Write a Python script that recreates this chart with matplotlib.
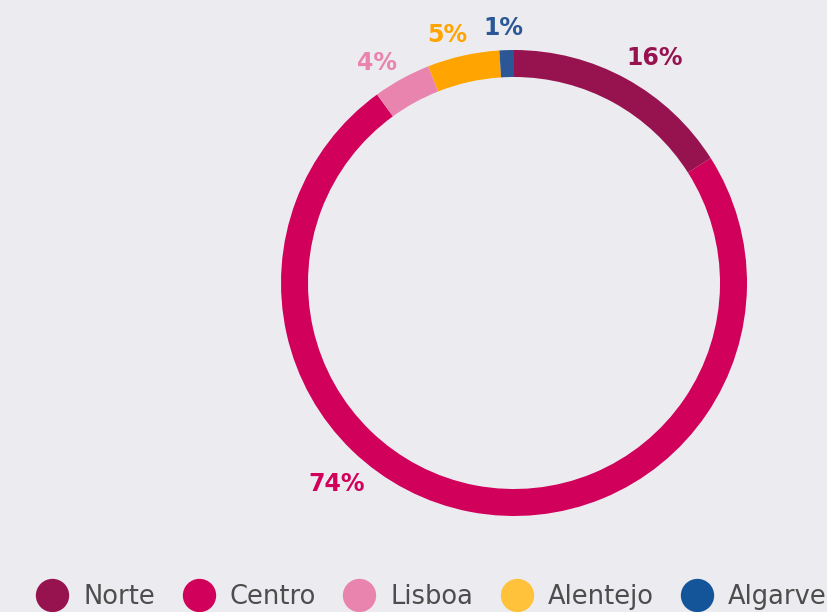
import numpy as np
import matplotlib.pyplot as plt
from matplotlib.lines import Line2D

# regions and their share (%)
regions = ['Norte', 'Centro', 'Lisboa', 'Alentejo', 'Algarve']
shares = [16, 74, 4, 5, 1]
labels = ['16%', '74%', '4%', '5%', '1%']

slice_colors = ['#96134F', '#D1005A', '#E884AE', '#FFA400', '#2B5797']
legend_colors = ['#96134F', '#D1005A', '#E884AE', '#FFC23A', '#14559A']

# label placement: angle clockwise from top (deg) and radius in px
label_angles = [32, 221.5, 328, 345, 357.5]
label_radii = [265, 268, 259, 257, 255]

bg = '#ECECF0'
W, H = 827, 612
cx, cy, R, ring = 514, H - 283, 233, 27

fig = plt.figure(figsize=(W / 100, H / 100), dpi=100)
fig.patch.set_facecolor(bg)
ax = fig.add_axes([0, 0, 1, 1])
ax.set_facecolor(bg)

ax.pie(shares, colors=slice_colors, startangle=90, counterclock=False,
       radius=R, center=(cx, cy),
       wedgeprops=dict(width=ring, linewidth=0))

for lab, ang, rr, col in zip(labels, label_angles, label_radii, slice_colors):
    t = np.deg2rad(ang)
    ax.text(cx + rr * np.sin(t), cy + rr * np.cos(t), lab, color=col,
            fontsize=17, fontweight='bold', family='DejaVu Sans',
            ha='center', va='center')

ax.set_xlim(0, W)
ax.set_ylim(0, H)
ax.set_aspect('equal')
ax.axis('off')

handles = [Line2D([], [], marker='o', linestyle='none', markersize=24,
                  markerfacecolor=c, markeredgewidth=0) for c in legend_colors]
fig.legend(handles, regions, loc='center', bbox_to_anchor=(0.5215, 0.024),
           ncol=5, frameon=False, labelcolor='#4D4D4D',
           handlelength=1.3, handletextpad=0.55, columnspacing=1.05,
           prop={'family': 'DejaVu Sans', 'size': 18.5})

fig.savefig('out.png', dpi=100, facecolor=bg)
